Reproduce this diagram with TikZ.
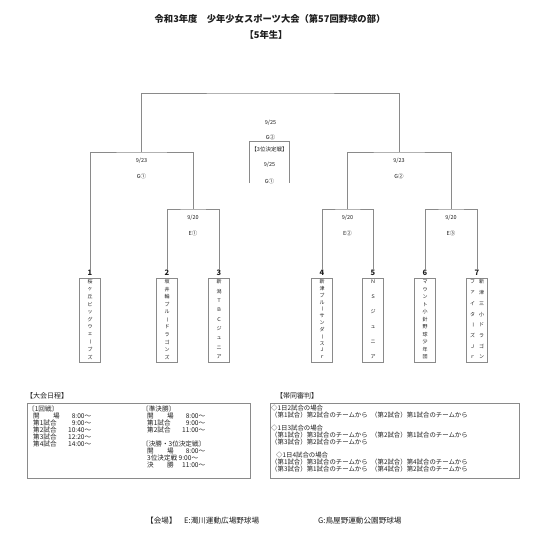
\documentclass[tikz,border=0pt]{standalone}
\usepackage{fontspec}
\setmainfont{Noto Sans CJK JP}
\usetikzlibrary{positioning}
\definecolor{rule}{HTML}{8A8A8A}
\definecolor{ink}{HTML}{1E1E1E}
\tikzset{
  bracket/.style={draw=rule,line width=0.8pt},
  teambox/.style={draw=rule,line width=0.8pt,minimum width=21pt,
    minimum height=84pt,inner sep=0pt},
  seed/.style={font=\fontsize{7.5}{8}\selectfont\bfseries,inner sep=0pt,text=ink},
  teamchar/.style={font=\fontsize{5}{5}\selectfont,inner sep=0pt,text=ink},
  matchtag/.style={font=\fontsize{5.5}{6}\selectfont,inner sep=0pt,text=ink},
  heading/.style={font=\fontsize{9.3}{10}\selectfont\bfseries,inner sep=0pt,text=ink},
  boxhead/.style={font=\fontsize{7}{7}\selectfont,inner sep=0pt,anchor=west,text=ink},
  infobox/.style={draw=rule,line width=0.8pt},
  infotext/.style={font=\fontsize{6.6}{7}\selectfont,align=left,
    anchor=north west,inner sep=0pt,text=ink},
  rulestext/.style={font=\fontsize{6.4}{6.8}\selectfont,align=left,
    anchor=north west,inner sep=0pt,text=ink},
  venue/.style={font=\fontsize{7.6}{8}\selectfont,inner sep=0pt,anchor=west,text=ink}
}
% one character per row, spread over the team box
\newcommand{\teamchars}[4]{%
  \foreach \ch [count=\k from 0] in {#4}
    \node[teamchar] (#1-\k) at (#2,{282+\k*75/(#3-1)}) {\ch};}
\newcommand{\choon}{\rotatebox[origin=c]{-90}{ー}}
\newcommand{\slot}[2]{\hspace*{5pt}\makebox[58pt][l]{#1\hfill#2}}
\newcommand{\pairline}[2]{\makebox[100pt][l]{#1}#2}

\begin{document}
\begin{tikzpicture}[x=1pt,y=-1pt]
  \useasboundingbox[fill=white] (0,0) rectangle (545,541);

  % title
  \node[heading] (title) at (270,19) {令和3年度　少年少女スポーツ大会（第57回野球の部）};
  \node[heading] (grade) at (266,35) {【5年生】};

  % teams
  \foreach \n/\x in {1/90,2/167,3/219,4/322,5/373,6/425,7/477} {
    \node[teambox] (team\n) at (\x,320) {};
    \node[seed] (seed\n) at (\x,273) {\n};
  }
  \teamchars{name1}{90}{11}{桜,ヶ,丘,ビ,ッ,グ,ウ,ェ,\choon,ブ,ズ}
  \teamchars{name2}{167}{11}{坂,井,輪,ブ,ル,\choon,ド,ラ,ゴ,ン,ズ}
  \teamchars{name3}{219}{9}{新,潟,Ｔ,Ｂ,Ｃ,ジ,ュ,ニ,ア}
  \teamchars{name4}{322}{12}{新,津,ブ,ル,\choon,サ,ン,ダ,\choon,ス,Ｊ,ｒ}
  \teamchars{name5}{373}{6}{Ｎ,Ｓ,ジ,ュ,ニ,ア}
  \teamchars{name6}{425}{11}{マ,ウ,ン,ト,小,針,野,球,少,年,団}
  \teamchars{name7a}{481.5}{8}{新,津,三,小,ド,ラ,ゴ,ン}
  \teamchars{name7b}{472.5}{8}{フ,ァ,イ,タ,\choon,ズ,Ｊ,ｒ}

  % match points
  \coordinate (qA) at (193,209);
  \coordinate (qB) at (347.5,209);
  \coordinate (qC) at (451,209);
  \coordinate (sA) at (141.5,152);
  \coordinate (sB) at (399,152);
  \coordinate (fin) at (270.5,93);

  \draw[bracket] (seed2.north) |- (qA) -| (seed3.north);
  \draw[bracket] (seed4.north) |- (qB) -| (seed5.north);
  \draw[bracket] (seed6.north) |- (qC) -| (seed7.north);
  \draw[bracket] (seed1.north) |- (sA) -| (qA);
  \draw[bracket] (qB) |- (sB) -| (qC);
  \draw[bracket] (sA) |- (fin) -| (sB);

  % dates and grounds
  \foreach \m/\d/\g in {qA/9\slash20/E①,qB/9\slash20/E②,qC/9\slash20/E③,sA/9\slash23/G①,sB/9\slash23/G②} {
    \node[matchtag,below=5.5pt of \m] (\m-date) {\d};
    \node[matchtag,below=10pt of \m-date] (\m-ground) {\g};
  }
  \node[matchtag] (fin-date) at (270.5,123) {9/25};
  \node[matchtag] (fin-ground) at (270.5,137) {G②};

  % third place
  \node[minimum width=39pt,minimum height=41pt,inner sep=0pt] (third) at (269.5,162.5) {};
  \draw[bracket] (third.south west) |- (third.north) -| (third.south east);
  \node[matchtag] (third-title) at (269.5,149) {【3位決定戦】};
  \node[matchtag] (third-date) at (269.5,165) {9/25};
  \node[matchtag] (third-ground) at (269.5,181) {G①};

  % schedule
  \node[boxhead] (sched-head) at (26,396) {【大会日程】};
  \draw[infobox] (27,403) rectangle (250,478);
  \node[infotext] (sched-r1) at (28,405.5) {〔1回戦〕\\
    \slot{開　　場}{8:00～}\\
    \slot{第1試合}{9:00～}\\
    \slot{第2試合}{10:40～}\\
    \slot{第3試合}{12:20～}\\
    \slot{第4試合}{14:00～}};
  \node[infotext] (sched-semi) at (142,405.5) {〔準決勝〕\\
    \slot{開　　場}{8:00～}\\
    \slot{第1試合}{9:00～}\\
    \slot{第2試合}{11:00～}\\[7pt]
    〔決勝・3位決定戦〕\\
    \slot{開　　場}{8:00～}\\
    \hspace*{5pt}3位決定戦 9:00～\\
    \slot{決　　勝}{11:00～}};

  % umpires
  \node[boxhead] (ump-head) at (276,396) {【帯同審判】};
  \draw[infobox] (270,403) rectangle (519,478);
  \node[rulestext] (ump-text) at (271,404.5) {◇1日2試合の場合\\
    \pairline{（第1試合）第2試合のチームから}{（第2試合）第1試合のチームから}\\[6.8pt]
    ◇1日3試合の場合\\
    \pairline{（第1試合）第3試合のチームから}{（第2試合）第1試合のチームから}\\
    （第3試合）第2試合のチームから\\[6.8pt]
    \hspace*{5pt}◇1日4試合の場合\\
    \pairline{（第1試合）第3試合のチームから}{（第2試合）第4試合のチームから}\\
    \pairline{（第3試合）第1試合のチームから}{（第4試合）第2試合のチームから}};

  % grounds
  \node[venue] (venue-head) at (146,521) {【会場】};
  \node[venue] (venue-e) at (184,521) {E:濁川運動広場野球場};
  \node[venue] (venue-g) at (318,521) {G:鳥屋野運動公園野球場};
\end{tikzpicture}
\end{document}
